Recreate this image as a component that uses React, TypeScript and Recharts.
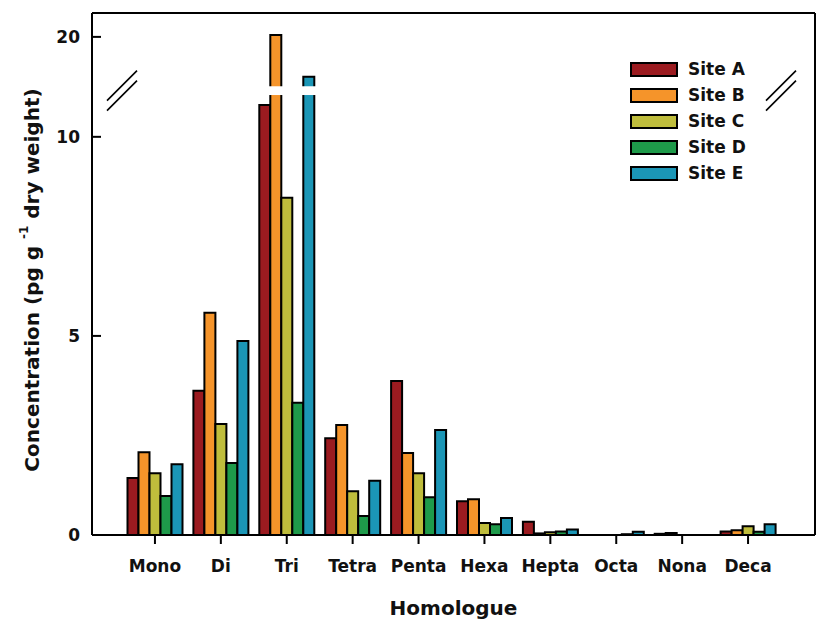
import React from 'react';
import { BarChart, Bar, XAxis, YAxis, Legend, ReferenceArea } from 'recharts';

const categories = ['Mono', 'Di', 'Tri', 'Tetra', 'Penta', 'Hexa', 'Hepta', 'Octa', 'Nona', 'Deca'];
const siteA = [1.43, 3.62, 10.8, 2.43, 3.87, 0.85, 0.33, 0, 0.03, 0.09];
const siteB = [2.08, 5.58, 20.05, 2.76, 2.06, 0.9, 0.04, 0, 0.05, 0.12];
const siteC = [1.55, 2.79, 8.47, 1.1, 1.55, 0.3, 0.07, 0, 0, 0.22];
const siteD = [0.98, 1.81, 3.32, 0.48, 0.95, 0.27, 0.09, 0.02, 0, 0.08];
const siteE = [1.78, 4.87, 19.0, 1.36, 2.64, 0.43, 0.14, 0.08, 0, 0.27];

const yTicks = [0, 5, 10, 20];

// broken axis: 0..BREAK_LOW drawn as-is, then jumps to BREAK_HIGH
const BREAK_LOW = 11.16;
const BREAK_HIGH = 18.65;
const Y_TOP = 20.6;
const scaleValue = (v: number) => (v <= BREAK_LOW ? v : BREAK_LOW + (v - BREAK_HIGH));

const series = [
  { key: 'a', name: 'Site A', values: siteA, color: '#9b1b20' },
  { key: 'b', name: 'Site B', values: siteB, color: '#f5942a' },
  { key: 'c', name: 'Site C', values: siteC, color: '#bfbd3c' },
  { key: 'd', name: 'Site D', values: siteD, color: '#1e9a4a' },
  { key: 'e', name: 'Site E', values: siteE, color: '#1b96b6' },
];

const data = categories.map((name, i) => {
  const row: Record<string, any> = { name };
  series.forEach((s) => { row[s.key] = s.values[i]; });
  return row;
});

const FONT = '"DejaVu Sans", Arial, sans-serif';

const YTick = (props: any) => {
  const { x, y, payload } = props;
  const idx = yTicks.findIndex((t) => Math.abs(scaleValue(t) - payload.value) < 1e-6);
  return (
    <g>
      <line x1={x} x2={x + 9} y1={y} y2={y} stroke="#000" strokeWidth={2} />
      <text x={x - 12} y={y} dy="0.36em" textAnchor="end" fontFamily={FONT} fontWeight="bold" fontSize={17} fill="#111">
        {idx >= 0 ? yTicks[idx] : ''}
      </text>
    </g>
  );
};

const YTitle = (props: any) => {
  const vb = props.viewBox || {};
  const cx = vb.x + 2;
  const cy = vb.y + vb.height / 2 + 6;
  return (
    <text x={cx} y={cy} transform={`rotate(-90, ${cx}, ${cy})`} textAnchor="middle" dominantBaseline="central"
      fontFamily={FONT} fontWeight="bold" fontSize={20} fill="#111">
      Concentration (pg g <tspan dy={-8} fontSize={12}>-1</tspan><tspan dy={8}> dry weight)</tspan>
    </text>
  );
};

const XTitle = (props: any) => {
  const vb = props.viewBox || {};
  return (
    <text x={vb.x + vb.width / 2} y={615} textAnchor="middle" fontFamily={FONT} fontWeight="bold" fontSize={20} fill="#111">
      Homologue
    </text>
  );
};

const BreakShape = (props: any) => {
  const { x, y, width, height } = props;
  const c = y + height / 2;
  const mark = (mx: number) => (
    <g>
      <polygon points={`${mx - 15},${c + 10} ${mx + 15},${c - 20} ${mx + 15},${c - 10} ${mx - 15},${c + 20}`} fill="#fff" />
      <line x1={mx - 15} y1={c + 10} x2={mx + 15} y2={c - 20} stroke="#000" strokeWidth={1.6} />
      <line x1={mx - 15} y1={c + 20} x2={mx + 15} y2={c - 10} stroke="#000" strokeWidth={1.6} />
    </g>
  );
  return (
    <g>
      <rect x={x + 2} y={y} width={width - 4} height={height} fill="#fff" />
      {mark(x)}
      {mark(x + width)}
    </g>
  );
};

const LegendBox = (props: any) => {
  const { payload = [] } = props;
  return (
    <div style={{ fontFamily: FONT, fontWeight: 'bold', fontSize: 17, color: '#111' }}>
      {payload.map((p: any) => (
        <div key={p.value} style={{ display: 'flex', alignItems: 'center', height: 26 }}>
          <div style={{ width: 44, height: 11, background: p.color, border: '2px solid #000', marginRight: 10 }} />
          <span>{p.value}</span>
        </div>
      ))}
    </div>
  );
};

export default function App() {
  const yDomain = [0, scaleValue(Y_TOP)];
  return (
    <div style={{ position: 'absolute', left: 0, top: 0, width: 828, height: 621, background: '#fff' }}>
      <BarChart width={828} height={621} data={data} margin={{ top: 12, right: 12, left: 30, bottom: 0 }}
        barCategoryGap={5.5} barGap={0}>
        <XAxis dataKey="name" height={86} padding={{ left: 30, right: 34 }}
          axisLine={{ stroke: '#000', strokeWidth: 2 }} tickLine={{ stroke: '#000', strokeWidth: 2 }}
          tickSize={9} tickMargin={16} interval={0}
          tick={{ fontFamily: FONT, fontWeight: 'bold', fontSize: 17, fill: '#111' }}
          label={<XTitle />} />
        <XAxis xAxisId="top" orientation="top" dataKey="name" height={1} tick={false} tickLine={false}
          axisLine={{ stroke: '#000', strokeWidth: 2 }} padding={{ left: 30, right: 34 }} />
        <YAxis width={62} domain={yDomain} ticks={yTicks.map(scaleValue)} interval={0}
          tickSize={0} tickMargin={0} tickLine={false} tick={<YTick />}
          axisLine={{ stroke: '#000', strokeWidth: 2 }} allowDataOverflow label={<YTitle />} />
        <YAxis yAxisId="right" orientation="right" width={1} domain={yDomain} tick={false} tickLine={false}
          axisLine={{ stroke: '#000', strokeWidth: 2 }} />
        <Legend content={<LegendBox />} layout="horizontal" verticalAlign="middle" align="center"
          wrapperStyle={{ position: 'absolute', left: 630, top: 56, width: 'auto' }} />
        {series.map((s) => (
          <Bar key={s.key} name={s.name} dataKey={(d: any) => scaleValue(d[s.key])} fill={s.color}
            stroke="#000" strokeWidth={2} isAnimationActive={false} />
        ))}
        <ReferenceArea y1={BREAK_LOW - 0.11} y2={BREAK_LOW + 0.11} ifOverflow="visible" zIndex={1500}
          shape={(p: any) => <BreakShape {...p} />} />
      </BarChart>
    </div>
  );
}
